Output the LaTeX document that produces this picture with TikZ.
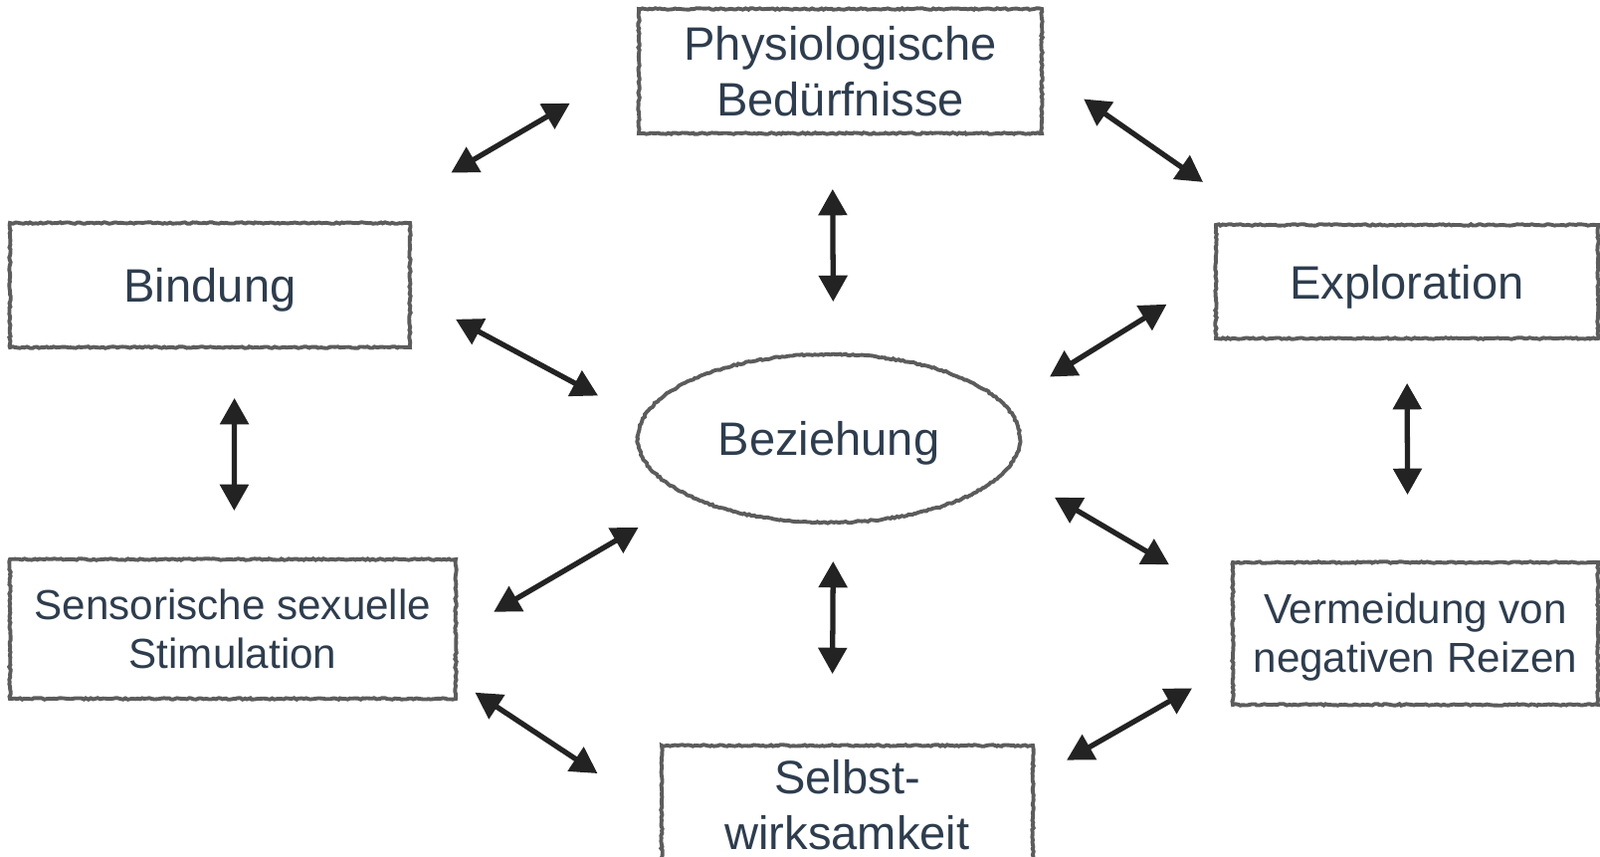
\documentclass[tikz,border=0pt]{standalone}
\usepackage{fontspec}
\setmainfont{Liberation Sans}
\usepackage{xcolor}
\usetikzlibrary{arrows.meta,shapes.geometric,decorations.pathmorphing}

\definecolor{inkblue}{HTML}{2E3D4E}
\definecolor{pencil}{HTML}{5C5C5C}
\definecolor{arrowink}{HTML}{232323}

\tikzset{
  sketch/.style={draw=pencil, line width=1.1pt, decorate,
    decoration={random steps, segment length=0.7pt, amplitude=0.22pt}},
  need/.style={sketch, rectangle, inner sep=0pt, align=center, text=inkblue,
    font=\fontsize{13.4}{16}\selectfont},
  needsmall/.style={need, font=\fontsize{12}{14}\selectfont},
  hub/.style={sketch, ellipse, inner sep=0pt, text=inkblue,
    font=\fontsize{13.4}{16}\selectfont},
  link/.style={arrowink, line width=1.5pt,
    {Triangle[length=7.5pt,width=8pt]}-{Triangle[length=7.5pt,width=8pt]}},
}

\begin{document}
\begin{tikzpicture}
    \useasboundingbox (0,0) rectangle (16.08,-8.6);
    \clip (0,0) rectangle (16.08,-8.6);

    \node[need, minimum width=4.05cm, minimum height=1.25cm] (phys) at (8.445,-0.715) {Physiologische\\Bedürfnisse};
    \node[need, text depth=0pt, minimum width=4.02cm, minimum height=1.25cm] (bind) at (2.11,-2.865) {Bindung};
    \node[need, text depth=0pt, minimum width=3.84cm, minimum height=1.14cm] (expl) at (14.14,-2.83) {Exploration};
    \node[hub, text depth=0pt, minimum width=3.84cm, minimum height=1.69cm] (bez) at (8.33,-4.405) {Beziehung};
    \node[needsmall, minimum width=4.48cm, minimum height=1.40cm] (sens) at (2.34,-6.32) {Sensorische sexuelle\\Stimulation};
    \node[needsmall, minimum width=3.67cm, minimum height=1.43cm] (verm) at (14.225,-6.365) {\rule{0pt}{0.9em}Vermeidung von\\negativen Reizen};
    \node[need, minimum width=3.73cm, minimum height=1.19cm] (selb) at (8.515,-8.085) {Selbst-\\wirksamkeit};

    \draw[link, shorten <=0.96cm, shorten >=0.78cm] (bind.22) -- (phys.178);
    \draw[link, shorten <=0.49cm, shorten >=0.72cm] (phys.0) -- (expl.158);
    \draw[link, shorten <=0.54cm, shorten >=0.51cm] (phys.263) -- (bez.87);
    \draw[link, shorten <=0.50cm, shorten >=0.49cm] (bind.-3) -- (bez.174);
    \draw[link, shorten <=0.56cm, shorten >=0.52cm] (expl.178) -- (bez.11);
    \draw[link, shorten <=0.49cm, shorten >=0.47cm] (bind.291) -- (sens.89);
    \draw[link, shorten <=0.43cm, shorten >=0.66cm] (expl.south) -- (verm.96);
    \draw[link, shorten <=0.42cm, shorten >=0.59cm] (sens.-1) -- (bez.203);
    \draw[link, shorten <=0.54cm, shorten >=0.72cm] (bez.-10) -- (verm.170);
    \draw[link, shorten <=0.37cm, shorten >=0.70cm] (bez.-87) -- (selb.104);
    \draw[link, shorten <=0.21cm, shorten >=0.75cm] (sens.-13) -- (selb.183);
    \draw[link, shorten <=0.37cm, shorten >=0.45cm] (selb.8) -- (verm.190);
\end{tikzpicture}
\end{document}
